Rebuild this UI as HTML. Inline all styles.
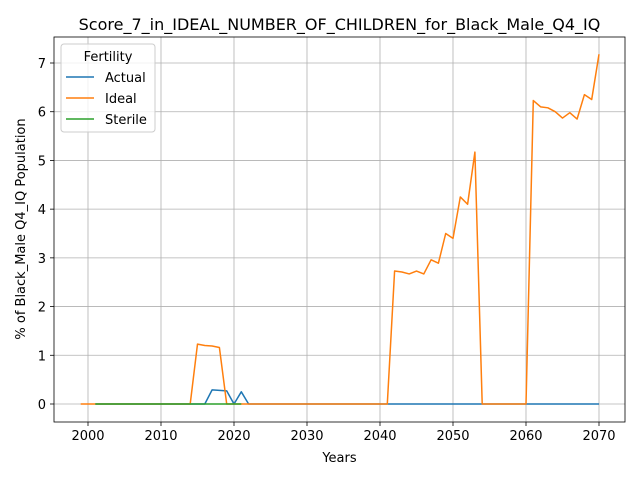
<!DOCTYPE html>
<html><head><meta charset="utf-8"><style>
body{margin:0;background:#fff;font-family:"DejaVu Sans","Liberation Sans",sans-serif}
svg text{font-family:"DejaVu Sans","Liberation Sans",sans-serif}
</style></head><body>
<svg id="c" width="640" height="480" xmlns="http://www.w3.org/2000/svg"></svg>
<script>
const idealYears=[];for(let y=1999;y<=2070;y++)idealYears.push(y);
const idealVals=[0,0,0,0,0,0,0,0,0,0,0,0,0,0,0,0,1.23,1.2,1.19,1.16,0,0,0,0,0,0,0,0,0,0,0,0,0,0,0,0,0,0,0,0,0,0,0,2.73,2.71,2.67,2.73,2.67,2.96,2.89,3.5,3.4,4.25,4.1,5.17,0,0,0,0,0,0,0,6.23,6.1,6.08,6.0,5.87,5.98,5.85,6.35,6.25,7.18];
const actualYears=[];for(let y=2001;y<=2070;y++)actualYears.push(y);
const actualVals=actualYears.map(y=>({2017:0.29,2018:0.28,2019:0.27,2021:0.25})[y]||0);
const sterileYears=[];for(let y=2001;y<=2021;y++)sterileYears.push(y);
const sterileVals=sterileYears.map(()=>0);
const xTicks=[2000,2010,2020,2030,2040,2050,2060,2070];
const yTicks=[0,1,2,3,4,5,6,7];
const L=54,R=625,T=37,B=422;
const X=v=>88+(v-2000)*(599-88)/70;
const Y=v=>404-v*(404-63)/7;
const s=document.getElementById('c');const NS='http://www.w3.org/2000/svg';
function el(t,a,p){const e=document.createElementNS(NS,t);for(const k in a)e.setAttribute(k,a[k]);(p||s).appendChild(e);return e;}
xTicks.forEach(t=>{const g=el('line',{x1:X(t),x2:X(t),y1:T,y2:B,stroke:'#b0b0b0','stroke-width':0.8});

el('line',{x1:X(t),x2:X(t),y1:B,y2:B+4,stroke:'#000','stroke-width':0.8});
const tx=el('text',{x:X(t),y:B+18,'text-anchor':'middle','font-size':13});tx.textContent=t;
});
yTicks.forEach(t=>{const g=el('line',{x1:L,x2:R,y1:Y(t),y2:Y(t),stroke:'#b0b0b0','stroke-width':0.8});

el('line',{x1:L-4,x2:L,y1:Y(t),y2:Y(t),stroke:'#000','stroke-width':0.8});
const tx=el('text',{x:L-8,y:Y(t)+5,'text-anchor':'end','font-size':13});tx.textContent=t;
});
function line(xs,vs,c,n){const p=el('polyline',{points:xs.map((x,i)=>X(x)+','+Y(vs[i])).join(' '),fill:'none',stroke:c,'stroke-width':1.5,'stroke-linejoin':'round'});
}
line(actualYears,actualVals,'#1f77b4','actual-line');
line(idealYears,idealVals,'#ff7f0e','ideal-line');
line(sterileYears,sterileVals,'#2ca02c','sterile-line');
const fr=el('rect',{x:L,y:T,width:R-L,height:B-T,fill:'none',stroke:'#000','stroke-width':0.8});

let t=el('text',{x:(L+R)/2,y:30,'text-anchor':'middle','font-size':16});t.textContent='Score_7_in_IDEAL_NUMBER_OF_CHILDREN_for_Black_Male_Q4_IQ';

t=el('text',{x:(L+R)/2,y:462,'text-anchor':'middle','font-size':13});t.textContent='Years';

t=el('text',{x:0,y:0,'text-anchor':'middle','font-size':13,transform:'translate(25,229) rotate(-90)'});t.textContent='% of Black_Male Q4_IQ Population';

const lg=el('g',{});
el('rect',{x:61,y:44,width:94,height:88,rx:3,fill:'#fff','fill-opacity':0.8,stroke:'#ccc'},lg);
t=el('text',{x:108,y:61,'text-anchor':'middle','font-size':13},lg);t.textContent='Fertility';

[['Actual','#1f77b4'],['Ideal','#ff7f0e'],['Sterile','#2ca02c']].forEach((d,i)=>{const yy=77+i*21;
const g=el('g',{},lg);
el('line',{x1:66,x2:94,y1:yy,y2:yy,stroke:d[1],'stroke-width':1.5},g);
const tx=el('text',{x:105,y:yy+5,'font-size':13},g);tx.textContent=d[0];});
</script>
</body></html>
